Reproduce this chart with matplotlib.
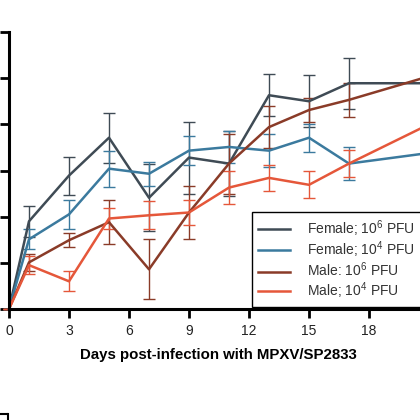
import matplotlib
matplotlib.use("Agg")
import matplotlib.pyplot as plt

plt.rcParams['font.family'] = ['Liberation Sans', 'DejaVu Sans']
plt.rcParams['mathtext.fontset'] = 'custom'
plt.rcParams['mathtext.rm'] = 'Liberation Sans'
plt.rcParams['mathtext.it'] = 'Liberation Sans:italic'

# data (y axis labels are cropped, units = tick steps)
days = [0, 1, 3, 5, 7, 9, 11, 13, 15, 17, 21]
female_hi = [0, 1.90, 2.89, 3.71, 2.41, 3.28, 3.15, 4.63, 4.50, 4.89, 4.89]
female_hi_err = [0, 0.34, 0.41, 0.54, 0.72, 0.78, 0.71, 0.45, 0.56, 0.55, 0.50]
female_lo = [0, 1.51, 2.05, 3.04, 2.93, 3.43, 3.51, 3.43, 3.71, 3.15, 3.38]
female_lo_err = [0, 0.22, 0.32, 0.39, 0.26, 0.32, 0.35, 0.35, 0.30, 0.35, 0.30]
male_hi = [0, 1.01, 1.49, 1.88, 0.86, 2.09, 3.15, 3.94, 4.31, 4.53, 5.04]
male_hi_err = [0, 0.19, 0.15, 0.48, 0.65, 0.58, 0.65, 0.45, 0.27, 0.37, 0.40]
male_lo = [0, 0.95, 0.60, 1.96, 2.03, 2.09, 2.63, 2.84, 2.69, 3.15, 4.00]
male_lo_err = [0, 0.20, 0.22, 0.22, 0.30, 0.28, 0.36, 0.28, 0.29, 0.30, 0.30]

labels = ["Female; 10$^6$ PFU", "Female; 10$^4$ PFU", "Male: 10$^6$ PFU", "Male; 10$^4$ PFU"]
colors = ["#3f4b55", "#3b7a9e", "#8a3b28", "#e5573a"]
xticks = [0, 3, 6, 9, 12, 15, 18]

series = [(female_hi, female_hi_err), (female_lo, female_lo_err),
          (male_hi, male_hi_err), (male_lo, male_lo_err)]

fig = plt.figure(figsize=(4.2, 4.2), dpi=100)
ax = fig.add_axes([9 / 420, 111 / 420, 420 / 420, 277 / 420])

for (vals, errs), col, lab in zip(series, colors, labels):
    ax.errorbar(days, vals, yerr=errs, color=col, lw=1.8, elinewidth=1.0,
                capsize=4.5, capthick=1.0, label=lab, clip_on=False)

ax.set_xlim(0, 21)
ax.set_ylim(0, 6)
ax.set_xticks(xticks)
ax.set_xticklabels([str(t) for t in xticks], fontsize=10, color="#222222")
ax.set_yticks(range(7))
ax.set_yticklabels([""] * 7)
ax.tick_params(axis='both', direction='out', length=6.5, width=2.0, pad=4)

for side in ["top", "right"]:
    ax.spines[side].set_visible(False)
for side in ["left", "bottom"]:
    ax.spines[side].set_linewidth(2.2)

ax.set_xlabel("Days post-infection with MPXV/SP2833", fontsize=10.8,
              fontweight='bold')
ax.xaxis.set_label_coords((218 - 9) / 420, -39 / 277)

handles, labs = ax.get_legend_handles_labels()
handles = [h[0] for h in handles]
leg = ax.legend(handles, labs, loc='upper left',
                bbox_to_anchor=(252 / 420, 1 - 212 / 420),
                bbox_transform=fig.transFigure, borderaxespad=0,
                fontsize=10, frameon=True, fancybox=False, framealpha=1,
                edgecolor="black", handlelength=2.3, handletextpad=1.2,
                labelspacing=0.05, borderpad=0.45)
leg.get_frame().set_linewidth(1.0)
for t in leg.get_texts():
    t.set_color("#333333")

# corner of the next panel peeking in at the bottom
ax2 = fig.add_axes([8 / 420, -1.0, 0.5, 1.0 + 6 / 420])
for side in ["top", "right", "bottom"]:
    ax2.spines[side].set_visible(False)
ax2.spines["left"].set_linewidth(1.5)
ax2.set_xticks([])
ax2.set_ylim(0, 1)
ax2.set_yticks([1])
ax2.set_yticklabels([""])
ax2.tick_params(axis='y', length=8, width=1.5)

fig.savefig("out.png", dpi=100)
